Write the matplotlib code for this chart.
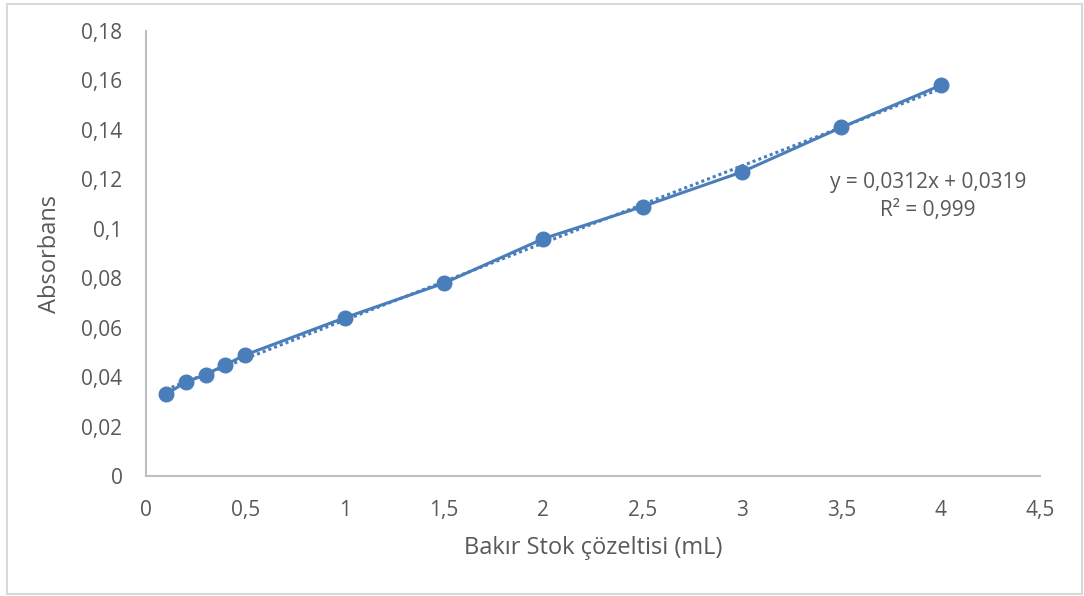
import matplotlib.pyplot as plt
import numpy as np
from matplotlib.patches import Rectangle
from matplotlib.ticker import FuncFormatter

# veriler
hacim = [0.1, 0.2, 0.3, 0.4, 0.5, 1, 1.5, 2, 2.5, 3, 3.5, 4]
absorbans = [0.033, 0.038, 0.041, 0.045, 0.049, 0.064, 0.078, 0.096, 0.109, 0.123, 0.141, 0.158]
x_ticks = [0, 0.5, 1, 1.5, 2, 2.5, 3, 3.5, 4, 4.5]
y_ticks = [0, 0.02, 0.04, 0.06, 0.08, 0.1, 0.12, 0.14, 0.16, 0.18]
denklem = "y = 0,0312x + 0,0319\nR² = 0,999"

plt.rcParams['font.family'] = ['Open Sans', 'DejaVu Sans']
renk = '#4A7EBB'
gri = '#595959'

fig = plt.figure(figsize=(10.84, 5.96), dpi=100)
fig.patches.append(Rectangle((0.006, 0.004), 0.992, 0.99, transform=fig.transFigure,
                             fill=False, edgecolor='#D9D9D9', linewidth=1.5))
ax = fig.add_axes([0.1347, 0.2013, 0.8247, 0.7467])

# trend cizgisi (dogrusal uyum)
m, b = np.polyfit(hacim, absorbans, 1)
xs = np.array([min(hacim), max(hacim)])
ax.plot(xs, m * xs + b, color=renk, linewidth=2.2, linestyle=(0, (1, 1)))
ax.plot(hacim, absorbans, color=renk, linewidth=2.2, marker='o', markersize=10.5)

ax.set_xlim(0, 4.5)
ax.set_ylim(0, 0.18)
ax.set_xticks(x_ticks)
ax.set_yticks(y_ticks)
fmt = FuncFormatter(lambda v, p: ('%g' % round(v, 3)).replace('.', ','))
ax.xaxis.set_major_formatter(fmt)
ax.yaxis.set_major_formatter(fmt)
ax.tick_params(length=0, labelsize=15, labelcolor=gri)
ax.tick_params(axis='x', pad=17)
ax.tick_params(axis='y', pad=17)

for s in ['top', 'right']:
    ax.spines[s].set_visible(False)
for s in ['left', 'bottom']:
    ax.spines[s].set_color('#BFBFBF')
    ax.spines[s].set_linewidth(1.5)

ax.set_xlabel("Bakır Stok çözeltisi (mL)", fontsize=17, color=gri, labelpad=11)
ax.set_ylabel("Absorbans", fontsize=17, color=gri, labelpad=14)
ax.text(3.935, 0.1132, denklem, ha='center', va='center', fontsize=15, color=gri,
        linespacing=1.45)

fig.savefig('out.png', dpi=100)
